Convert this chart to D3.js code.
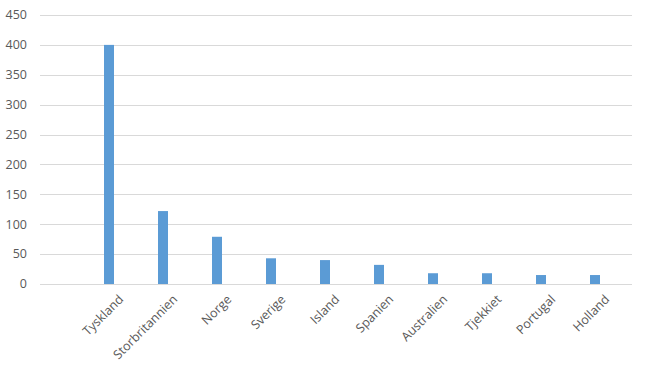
<!DOCTYPE html>
<html>
<head>
<meta charset="utf-8">
<script src="https://cdn.jsdelivr.net/npm/d3@7"></script>
<style>
  body { margin: 0; background: #fff; }
  text { font-family: "Open Sans", "Liberation Sans", sans-serif; }
</style>
</head>
<body>
<div id="chart"></div>
<script>
// data
const countries = ["Tyskland", "Storbritannien", "Norge", "Sverige", "Island",
                   "Spanien", "Australien", "Tjekkiet", "Portugal", "Holland"];
const values = [400, 122, 79, 43, 40, 32, 18, 18, 15, 15];
const yTicks = [0, 50, 100, 150, 200, 250, 300, 350, 400, 450];

const W = 647, H = 374;
const gridLeft = 40, gridRight = 632;

const svg = d3.select("#chart")
  .append("svg")
  .attr("width", W)
  .attr("height", H);

const x = d3.scaleBand()
  .domain(countries)
  .range([82, 622])
  .paddingInner(44 / 54)
  .paddingOuter(22 / 54);

const y = d3.scaleLinear()
  .domain([0, 450])
  .range([284, 15]);

// gridlines
svg.append("g")
  .selectAll("line")
  .data(yTicks)
  .enter()
  .append("line")
  .attr("x1", gridLeft)
  .attr("x2", gridRight)
  .attr("y1", d => Math.round(y(d)) + 0.5)
  .attr("y2", d => Math.round(y(d)) + 0.5)
  .attr("stroke", "#d9d9d9")
  .attr("stroke-width", 1);

// y labels
svg.append("g")
  .selectAll("text")
  .data(yTicks)
  .enter()
  .append("text")
  .attr("x", 27)
  .attr("y", d => y(d))
  .attr("dy", "0.35em")
  .attr("text-anchor", "end")
  .attr("font-size", "12.5px")
  .attr("fill", "#595959")
  .text(d => d);

// bars
svg.selectAll(".bar")
  .data(countries)
  .enter()
  .append("rect")
  .attr("class", "bar")
  .attr("x", d => x(d))
  .attr("y", (d, i) => y(values[i]))
  .attr("width", x.bandwidth())
  .attr("height", (d, i) => y(0) - y(values[i]))
  .attr("fill", "#5b9bd5");

// x labels, rotated
svg.append("g")
  .selectAll("text")
  .data(countries)
  .enter()
  .append("text")
  .attr("transform", d => `translate(${x(d) + x.bandwidth() / 2 + 9},${294}) rotate(-45)`)
  .attr("text-anchor", "end")
  .attr("dy", "0.7em")
  .attr("font-size", "12.5px")
  .attr("fill", "#595959")
  .text(d => d);
</script>
</body>
</html>
